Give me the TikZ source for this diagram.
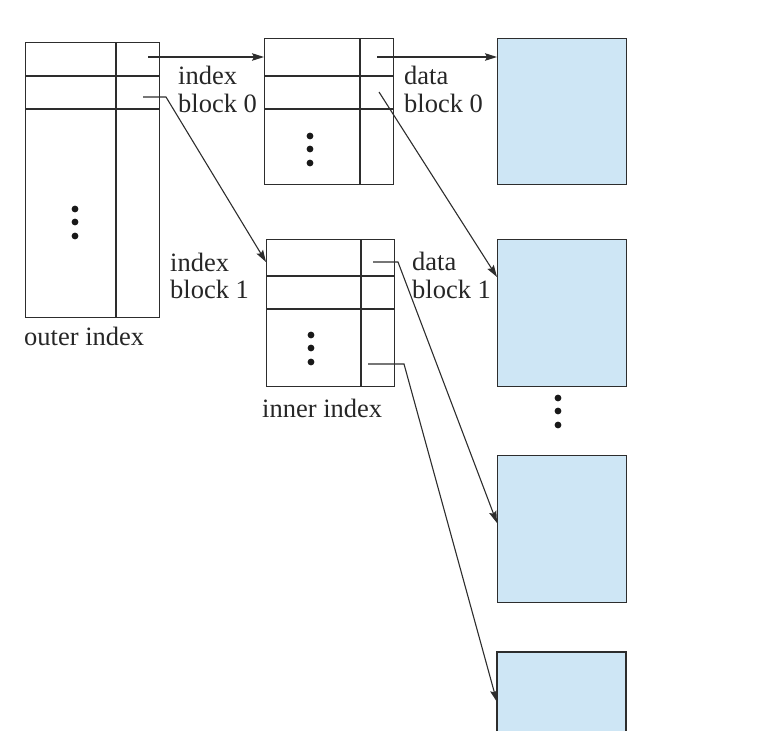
\documentclass[tikz,border=0pt]{standalone}
\usepackage{fontspec}
\setmainfont{Liberation Serif}
\usetikzlibrary{arrows.meta}
\definecolor{datafill}{RGB}{206,230,245}
\definecolor{ink}{RGB}{45,45,45}
\tikzset{
  tbl/.style={draw=ink, line width=1.1pt, inner sep=0pt, anchor=north west, fill=white},
  datablk/.style={draw=ink, line width=1.2pt, inner sep=0pt, anchor=north west, fill=datafill, minimum width=129pt},
  grid/.style={draw=ink, line width=1.1pt},
  lbl/.style={inner sep=0pt, anchor=base west, font=\fontsize{26.5}{28}\selectfont, text=black!85},
  ptr/.style={draw=ink, line width=1.1pt},
  arr/.style={ptr, -{Stealth[length=12pt,width=7.5pt,inset=2pt]}},
  dot/.style={fill=black!90, draw=none}
}
\begin{document}
\begin{tikzpicture}[x=1pt,y=-1pt]
\useasboundingbox (0,0) rectangle (759,742);
% outer index
\node[tbl, minimum width=134pt, minimum height=275pt] (outer) at (25,42) {};
\draw[grid] (116,42) -- (116,317);
\draw[grid] (25,76) -- (159,76);
\draw[grid] (25,109) -- (159,109);
\foreach \y in {209,222,236} \fill[dot] (75,\y) circle (3.4pt);
\node[lbl] (outerlbl) at (24,345) {outer index};
% index block 0
\node[tbl, minimum width=129pt, minimum height=146pt] (ib0) at (264,38) {};
\draw[grid] (360,38) -- (360,184);
\draw[grid] (264,76) -- (393,76);
\draw[grid] (264,109) -- (393,109);
\foreach \y in {136,149,163} \fill[dot] (310,\y) circle (3.4pt);
% inner index
\node[tbl, minimum width=128pt, minimum height=147pt] (inner) at (266,239) {};
\draw[grid] (361,239) -- (361,386);
\draw[grid] (266,276) -- (394,276);
\draw[grid] (266,309) -- (394,309);
\foreach \y in {335,348,362} \fill[dot] (311,\y) circle (3.4pt);
\node[lbl] (innerlbl) at (262,417) {inner index};
% data blocks
\node[datablk, minimum height=146pt] (d0) at (497,38) {};
\node[datablk, minimum height=147pt] (d1) at (497,239) {};
\node[datablk, minimum height=147pt] (d2) at (497,455) {};
\fill[datafill] (497,652) rectangle (626,731);
\draw[draw=ink, line width=1.2pt] (497,731) -- (497,652) -- (626,652) -- (626,731);
\coordinate (d3) at (497,652);
\foreach \y in {398,411,425} \fill[dot] (558,\y) circle (3.4pt);
% labels
\node[lbl] (l1a) at (178,84) {index};
\node[lbl] (l1b) at (178,112) {block 0};
\node[lbl] (l2a) at (404,84) {data};
\node[lbl] (l2b) at (404,112) {block 0};
\node[lbl] (l3a) at (170,271) {index};
\node[lbl] (l3b) at (170,298) {block 1};
\node[lbl] (l4a) at (412,270) {data};
\node[lbl] (l4b) at (412,298) {block 1};
% pointer coordinates
\coordinate (p1) at (148,57);
\coordinate (t1) at (264,57);
\coordinate (p2) at (143,97);
\coordinate (k2) at (166,97);
\coordinate (t2) at (266,262);
\coordinate (p3) at (377,57);
\coordinate (t3) at (497,57);
\coordinate (p4) at (379,92);
\coordinate (t4) at (497,277);
\coordinate (p5) at (373,262);
\coordinate (k5) at (398,262);
\coordinate (t5) at (497,523);
\coordinate (p6) at (368,364);
\coordinate (k6) at (404,364);
\coordinate (t6) at (497,702);
% connectors
\draw[arr] (p1) -- (t1);
\draw[arr] (p2) -- (k2) -- (t2);
\draw[arr] (p3) -- (t3);
\draw[arr] (p4) -- (t4);
\draw[arr] (p5) -- (k5) -- (t5);
\draw[arr] (p6) -- (k6) -- (t6);
\end{tikzpicture}
\end{document}
